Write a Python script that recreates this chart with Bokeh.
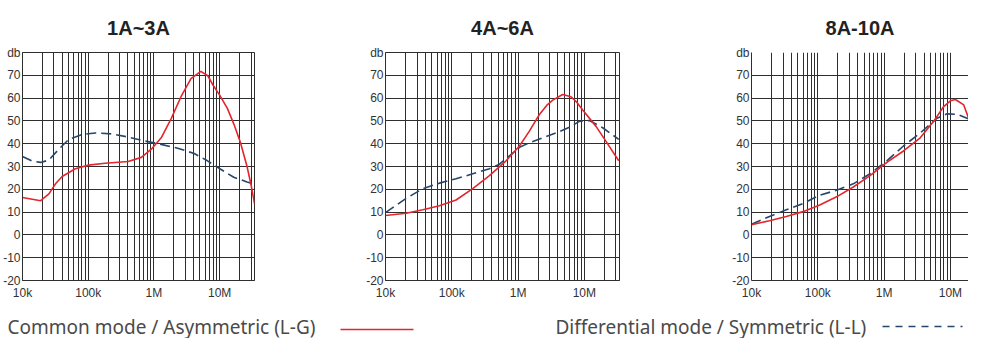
from bokeh.plotting import figure
from bokeh.layouts import column, row
from bokeh.models import FixedTicker, Range1d, CustomJSTickFormatter
from bokeh.embed import file_html
from bokeh.resources import INLINE
from bokeh.core.properties import value

# ---------------- data ----------------
titles = ["1A~3A", "4A~6A", "8A-10A"]
x_ticks = [1e4, 1e5, 1e6, 1e7]
x_tick_labels = ["10k", "100k", "1M", "10M"]
y_ticks = [-20, -10, 0, 10, 20, 30, 40, 50, 60, 70, 80]
y_tick_labels = ["-20", "-10", "0", "10", "20", "30", "40", "50", "60", "70", "db"]
grid_freqs = [m * 10 ** d for d in range(4, 8) for m in range(1, 10)]

legend_cm = "Common mode / Asymmetric (L-G)"
legend_dm = "Differential mode / Symmetric (L-L)"

# chart 1 : 1A~3A
c1_cm_f = [1.0e4, 1.89e4, 2.52e4, 3.18e4, 4.01e4, 6.37e4, 1.01e5, 1.80e5, 4.05e5, 6.44e5,
           9.12e5, 1.29e6, 1.83e6, 2.58e6, 3.66e6, 5.17e6, 6.6e6, 8.0e6, 1.0e7, 1.31e7,
           1.65e7, 2.07e7, 2.61e7, 3.0e7, 3.41e7]
c1_cm_db = [16.4, 15.0, 18.0, 22.4, 25.6, 29.0, 30.6, 31.4, 32.2, 34.0,
            37.6, 42.6, 51.0, 60.6, 68.5, 71.7, 69.8, 65.5, 61.3, 55.5,
            48.5, 40.5, 30.0, 22.0, 13.4]
c1_dm_f = [1.0e4, 1.42e4, 1.89e4, 2.52e4, 3.57e4, 5.06e4, 8.03e4, 1.28e5, 2.28e5, 4.05e5,
           7.23e5, 1.29e6, 2.30e6, 4.10e6, 6.52e6, 1.02e7, 1.64e7, 2.61e7, 3.41e7]
c1_dm_db = [34.4, 32.3, 31.8, 32.8, 37.6, 41.9, 44.0, 44.7, 44.3, 42.9,
            41.2, 39.7, 38.0, 35.7, 32.5, 28.9, 25.3, 23.2, 22.2]

# chart 2 : 4A~6A
c2_cm_f = [1.0e4, 2.05e4, 3.66e4, 6.52e4, 1.16e5, 2.07e5, 3.70e5, 6.59e5, 1.05e6, 1.48e6,
           2.10e6, 2.7e6, 3.33e6, 4.71e6, 6.29e6, 7.8e6, 9.44e6, 1.50e7, 2.12e7, 3.30e7]
c2_cm_db = [8.5, 9.5, 11.0, 12.8, 15.3, 20.3, 26.0, 32.5, 39.0, 45.5,
            52.8, 56.8, 59.1, 61.6, 60.6, 58.0, 54.8, 47.6, 41.0, 32.5]
c2_dm_f = [1.0e4, 2.05e4, 3.66e4, 6.52e4, 1.16e5, 2.07e5, 3.70e5, 5.24e5, 7.40e5, 1.05e6,
           1.48e6, 2.35e6, 3.74e6, 5.94e6, 8.41e6, 1.19e7, 1.89e7, 3.30e7]
c2_dm_db = [9.8, 16.0, 20.3, 22.7, 24.6, 26.8, 29.0, 31.0, 34.7, 38.4,
            40.4, 42.6, 44.7, 47.2, 49.8, 50.2, 47.0, 41.9]

# chart 3 : 8A-10A
c3_cm_f = [1.0e4, 1.87e4, 3.35e4, 5.99e4, 1.07e5, 1.92e5, 3.43e5, 6.14e5, 1.10e6, 1.96e6,
           3.51e6, 5.59e6, 7.92e6, 1.0e7, 1.19e7, 1.59e7, 2.13e7, 2.59e7]
c3_cm_db = [4.5, 6.2, 8.1, 10.2, 13.1, 16.7, 21.0, 26.0, 31.8, 36.8,
            42.6, 49.8, 56.3, 58.8, 59.4, 57.0, 46.9, 37.6]
c3_dm_f = [1.0e4, 1.87e4, 3.35e4, 5.99e4, 1.07e5, 1.92e5, 3.43e5, 6.14e5, 1.10e6, 1.96e6,
           3.51e6, 6.28e6, 8.89e6, 1.26e7, 1.90e7, 2.59e7]
c3_dm_db = [4.7, 8.1, 11.0, 13.8, 17.4, 19.6, 22.4, 26.8, 32.5, 39.0,
            44.7, 51.2, 53.1, 52.9, 50.8, 48.5]

x_ends = [10 ** 7.53, 10 ** 7.53, 10 ** 7.273]

charts = [
    (c1_cm_f, c1_cm_db, c1_dm_f, c1_dm_db),
    (c2_cm_f, c2_cm_db, c2_dm_f, c2_dm_db),
    (c3_cm_f, c3_cm_db, c3_dm_f, c3_dm_db),
]

# ---------------- style ----------------
RED = "#e3262d"
NAVY = "#26456a"
GRID = "#2e2e2e"
TICK_FONT = "Liberation Sans"

borders = [(20, 101, 355), (30, 102, 366), (30, 0, 247)]
title_offsets = [-12, -6, 10]
FIG_H = 302


def tick_formatter(tvals, tlabels):
    return CustomJSTickFormatter(
        args=dict(tv=tvals, tl=tlabels),
        code="""
        for (let i = 0; i < tv.length; i++) {
            if (Math.abs(tick - tv[i]) <= 1e-6 * Math.abs(tv[i]) + 1e-9) return tl[i];
        }
        return '';
        """,
    )


figs = []
for i, (title, (cmf, cmd, dmf, dmd)) in enumerate(zip(titles, charts)):
    bl, br, w = borders[i]
    p = figure(
        width=w, height=FIG_H,
        x_axis_type="log",
        x_range=Range1d(1e4, x_ends[i]),
        y_range=Range1d(-20, 80),
        min_border_left=bl, min_border_right=br,
        min_border_top=49, min_border_bottom=22,
        output_backend="svg", toolbar_location=None,
        background_fill_color="white", border_fill_color="white",
    )
    p.title.text = title
    p.title.align = "center"
    p.title.offset = title_offsets[i]
    p.title.text_font = "Liberation Sans"
    p.title.text_font_style = "bold"
    p.title.text_font_size = "20px"
    p.title.text_color = "#222222"
    p.title.standoff = 28

    # x axis
    xa = p.xaxis[0]
    xa.ticker = FixedTicker(ticks=x_ticks, minor_ticks=[])
    xa.formatter = tick_formatter(x_ticks, x_tick_labels)
    xa.major_tick_out = 0
    xa.major_tick_in = 0
    xa.minor_tick_out = 0
    xa.minor_tick_in = 0
    xa.major_label_standoff = 5
    xa.major_label_text_font = TICK_FONT
    xa.major_label_text_font_size = "12px"
    xa.major_label_text_color = "#333333"
    xa.axis_line_color = GRID

    # y axis
    ya = p.yaxis[0]
    ya.ticker = FixedTicker(ticks=y_ticks, minor_ticks=[])
    ya.formatter = tick_formatter(y_ticks, y_tick_labels)
    ya.major_tick_out = 0
    ya.major_tick_in = 0
    ya.minor_tick_out = 0
    ya.minor_tick_in = 0
    ya.major_label_standoff = 2
    ya.major_label_text_font = TICK_FONT
    ya.major_label_text_font_size = "12px"
    ya.major_label_text_color = "#333333"
    ya.axis_line_color = GRID

    # grids
    p.xgrid.ticker = FixedTicker(ticks=grid_freqs)
    p.xgrid.grid_line_color = GRID
    p.xgrid.grid_line_alpha = 1.0
    p.xgrid.grid_line_width = 1
    p.ygrid.ticker = FixedTicker(ticks=y_ticks)
    p.ygrid.grid_line_color = GRID
    p.ygrid.grid_line_alpha = 1.0
    p.ygrid.grid_line_width = 1

    p.outline_line_color = GRID if i < 2 else None
    p.outline_line_alpha = 1.0

    p.line(dmf, dmd, line_color=NAVY, line_width=1.6, line_dash="10 5")
    p.line(cmf, cmd, line_color=RED, line_width=1.6)

    figs.append(p)

# ---------------- legend strip ----------------
LW, LH = 968, 36
lg = figure(
    width=LW, height=LH, title=None,
    x_range=Range1d(0, LW), y_range=Range1d(0, LH),
    x_axis_location=None, y_axis_location=None,
    min_border=0, min_border_top=0, min_border_bottom=0,
    min_border_left=0, min_border_right=0,
    output_backend="svg", toolbar_location=None,
)
lg.grid.visible = False
lg.outline_line_color = None
lg.text(x=[7], y=[12], text=[legend_cm], text_baseline="middle",
        text_font=value("Noto Sans"), text_font_size="19px", text_color="#4a4a4a")
lg.segment(x0=[340], y0=[9], x1=[413], y1=[9], line_color=RED, line_width=1.5)
lg.text(x=[555], y=[12], text=[legend_dm], text_baseline="middle",
        text_font=value("Noto Sans"), text_font_size="19px", text_color="#4a4a4a")
lg.segment(x0=[882], y0=[12], x1=[962], y1=[12], line_color=NAVY, line_width=1.5,
           line_dash="7 6")

layout = column(row(*figs, spacing=0), lg, spacing=0)

open("out.html", "w").write(file_html(layout, INLINE))
